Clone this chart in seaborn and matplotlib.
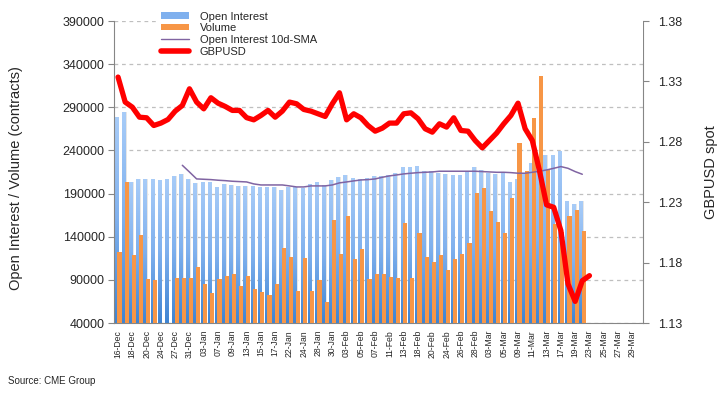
import matplotlib
matplotlib.use("Agg")
import matplotlib.pyplot as plt
from matplotlib.colors import LinearSegmentedColormap
from matplotlib.lines import Line2D
from matplotlib.patches import Patch, Rectangle
import numpy as np
import pandas as pd
import seaborn as sns

# --------------------------- data ---------------------------
dates = [
    "16-Dec", "17-Dec", "18-Dec", "19-Dec", "20-Dec", "23-Dec", "24-Dec", "26-Dec",
    "27-Dec", "30-Dec", "31-Dec",
    "02-Jan", "03-Jan", "06-Jan", "07-Jan", "08-Jan", "09-Jan", "10-Jan", "13-Jan",
    "14-Jan", "15-Jan", "16-Jan", "17-Jan", "21-Jan", "22-Jan", "23-Jan", "24-Jan",
    "27-Jan", "28-Jan", "29-Jan", "30-Jan", "31-Jan",
    "03-Feb", "04-Feb", "05-Feb", "06-Feb", "07-Feb", "10-Feb", "11-Feb", "12-Feb",
    "13-Feb", "14-Feb", "18-Feb", "19-Feb", "20-Feb", "21-Feb", "24-Feb", "25-Feb",
    "26-Feb", "27-Feb", "28-Feb",
    "02-Mar", "03-Mar", "04-Mar", "05-Mar", "06-Mar", "09-Mar", "10-Mar", "11-Mar",
    "12-Mar", "13-Mar", "16-Mar", "17-Mar", "18-Mar", "19-Mar", "20-Mar", "23-Mar",
    "24-Mar", "25-Mar", "26-Mar", "27-Mar", "28-Mar", "29-Mar", "30-Mar",
]

open_interest = [
    279100, 284900, 203900, 207000, 207000, 207000, 205800, 207000, 210500, 212800,
    207000, 202400, 203500, 203500, 197700, 201200, 200000, 198900, 198900, 198900,
    197700, 197700, 197700, 194300, 197700, 197700, 196600, 201200, 203500, 200000,
    205800, 209300, 211600, 208200, 207000, 208200, 210500, 210500, 211600, 213900,
    220900, 220900, 222000, 216300, 216300, 213900, 212800, 211600, 211600, 215100,
    220900, 217400, 213900, 212800, 213900, 203500, 206500, 214000, 225400, 230000,
    234600, 234600, 239200, 181200, 177700, 181200,
]

volume = [
    122600, 203500, 119100, 142200, 91400, 89400, np.nan, np.nan, 92500, 92500,
    92500, 105200, 85600, 75200, 91400, 94800, 97100, 83300, 94800, 79800,
    76300, 72800, 85600, 127200, 116800, 77500, 115600, 77500, 90200, 64800,
    159600, 120300, 164200, 114500, 126100, 91400, 97100, 97100, 93700, 92500,
    156100, 92500, 144600, 116800, 111000, 119100, 101800, 114500, 120300, 133000,
    190800, 196600, 170000, 157300, 144600, 185000, 248500, 215800, 277500, 326500,
    216900, 154600, 145000, 163800, 171500, 146500,
]

# 10d-SMA as drawn, starting on the 10th session (30-Dec)
oi_sma = [
    222800, 215000, 207000, 206600, 206200, 205500, 205000, 204300, 203900, 203500,
    201200, 200000, 200000, 200000, 200000, 198900, 197700, 197700, 198900, 198900,
    198900, 200000, 202400, 203500, 204700, 205800, 206200, 207000, 208900, 210500,
    211600, 212800, 213600, 214300, 214700, 215100, 215900, 215900, 215900, 215900,
    215900, 215900, 215500, 215100, 214700, 214700, 214300, 213600, 213600, 214700,
    215900, 217400, 219300, 221300, 219300, 215500, 212400,
]
sma_start = 9

gbpusd = [
    1.3336, 1.3129, 1.3087, 1.3004, 1.2999, 1.2935, 1.2955, 1.2985, 1.3054, 1.3101,
    1.3239, 1.3129, 1.3073, 1.3165, 1.3120, 1.3093, 1.3060, 1.3060, 1.3000, 1.2982,
    1.3018, 1.3060, 1.3004, 1.3054, 1.3129, 1.3115, 1.3068, 1.3054, 1.3032, 1.3010,
    1.3115, 1.3206, 1.2982, 1.3032, 1.2999, 1.2935, 1.2888, 1.2913, 1.2955, 1.2955,
    1.3032, 1.3040, 1.2991, 1.2908, 1.2880, 1.2949, 1.2922, 1.2999, 1.2894, 1.2888,
    1.2811, 1.2750, 1.2811, 1.2872, 1.2949, 1.3018, 1.3120, 1.2908, 1.2811, 1.2562,
    1.2278, 1.2258, 1.2065, 1.1623, 1.1479, 1.1650, 1.1692,
]

left_ticks = [40000, 90000, 140000, 190000, 240000, 290000, 340000, 390000]
right_ticks = [1.13, 1.18, 1.23, 1.28, 1.33, 1.38]

BLUE, ORANGE, PURPLE, RED = "#7FB0EE", "#F79646", "#8064A2", "#FF0000"
GREY = "#868686"

# --------------------------- frames ---------------------------
n = len(open_interest)
bars = pd.DataFrame({
    "date": dates[:n] * 2,
    "series": ["Open Interest"] * n + ["Volume"] * n,
    "value": open_interest + volume,
}).dropna()
sma = pd.DataFrame({"pos": np.arange(sma_start, sma_start + len(oi_sma)), "value": oi_sma})
spot = pd.DataFrame({"pos": np.arange(len(gbpusd)), "value": gbpusd})

# --------------------------- plot ---------------------------
sns.set_style("white")
plt.rcParams["font.family"] = ["Liberation Sans", "DejaVu Sans"]

fig = plt.figure(figsize=(7.25, 3.93), dpi=100)
ax = fig.add_axes([0.1579, 0.1781, 0.729, 0.7684])

sns.barplot(data=bars, x="date", y="value", hue="series", order=dates,
            hue_order=["Open Interest", "Volume"],
            palette={"Open Interest": BLUE, "Volume": ORANGE}, saturation=1,
            width=0.9, errorbar=None, legend=False, linewidth=0,
            edgecolor="none", ax=ax)

ymin = left_ticks[0]
cmap = LinearSegmentedColormap.from_list("oi", ["#3E84D3", "#80B1EE", "#A8CCF8"])
grad = np.linspace(0, 1, 128).reshape(-1, 1)
oi_bars, vol_bars = ax.containers[0], ax.containers[1]
for rect in oi_bars:
    x, w, h = rect.get_x(), rect.get_width(), rect.get_height()
    rect.set_zorder(2)
    ax.add_patch(Rectangle((x + w, 0), w * 0.45, h, facecolor="#E6E6E6",
                           edgecolor="none", zorder=1.5))
    im = ax.imshow(grad, extent=[x, x + w, ymin, h], origin="lower", aspect="auto",
                   cmap=cmap, zorder=2.1)
    im.set_clip_path(rect)
for rect in vol_bars:
    rect.set_x(rect.get_x() - 0.08)
    rect.set_width(rect.get_width() + 0.12)
    rect.set_zorder(3)

sns.lineplot(data=sma, x="pos", y="value", color=PURPLE, lw=1.1, ax=ax, zorder=4)

ax.set_xlim(-0.5, len(dates) - 0.5)
ax.set_ylim(ymin, left_ticks[-1])
ax.set_yticks(left_ticks)
ax.set_yticklabels([str(v) for v in left_ticks])
ax.set_xticks(np.arange(0, len(dates), 2))
ax.set_xticklabels(dates[::2], rotation=90)
ax.set_xticks(np.arange(-0.5, len(dates), 1), minor=True)
ax.tick_params(axis="x", which="major", length=0, pad=5, labelsize=6.2)
ax.tick_params(axis="x", which="minor", length=3, color=GREY, width=0.8)
ax.tick_params(axis="y", length=4, color=GREY, width=0.8, pad=3, labelsize=9, left=True)
ax.set_axisbelow(True)
ax.yaxis.grid(True, color="#BFBFBF", linestyle=(0, (3, 3)), lw=0.9)
ax.set_xlabel("")
ax.set_ylabel("Open Interest / Volume (contracts)", fontsize=10.5)
ax.yaxis.set_label_coords(-0.173, 0.48)
for side in ("left", "bottom"):
    ax.spines[side].set_color(GREY)
ax.spines["top"].set_visible(False)
ax.spines["right"].set_visible(False)

ax2 = ax.twinx()
sns.lineplot(data=spot, x="pos", y="value", color=RED, lw=3.8, ax=ax2,
             solid_capstyle="round", solid_joinstyle="round", zorder=5)
ax2.set_xlim(-0.5, len(dates) - 0.5)
ax2.set_ylim(right_ticks[0], right_ticks[-1])
ax2.set_yticks(right_ticks)
ax2.set_yticklabels([f"{v:.2f}" for v in right_ticks])
ax2.tick_params(axis="y", length=4, color=GREY, width=0.8, pad=7, labelsize=9, right=True)
ax2.set_xlabel("")
ax2.set_ylabel("GBPUSD spot", fontsize=10.5)
ax2.yaxis.set_label_coords(1.115, 0.5)
for side in ("left", "top", "bottom"):
    ax2.spines[side].set_visible(False)
ax2.spines["right"].set_color(GREY)

handles = [
    Patch(facecolor=BLUE, edgecolor="none"),
    Patch(facecolor=ORANGE, edgecolor="none"),
    Line2D([], [], color=PURPLE, lw=1),
    Line2D([], [], color=RED, lw=4, solid_capstyle="round"),
]
labels = ["Open Interest", "Volume", "Open Interest 10d-SMA", "GBPUSD"]
ax2.legend(handles, labels, loc="upper left", bbox_to_anchor=(0.0795, 1.046, 0.9205, 0),
           mode="expand", frameon=True, facecolor="white", edgecolor="none",
           framealpha=1, fancybox=False, fontsize=8, handlelength=2.5,
           handleheight=0.5, handletextpad=1.0, labelspacing=0.15,
           borderpad=0.4, borderaxespad=0)

fig.text(8 / 725, 1 - 381 / 393, "Source: CME Group", fontsize=7, va="center")

fig.savefig("out.png", dpi=100)
